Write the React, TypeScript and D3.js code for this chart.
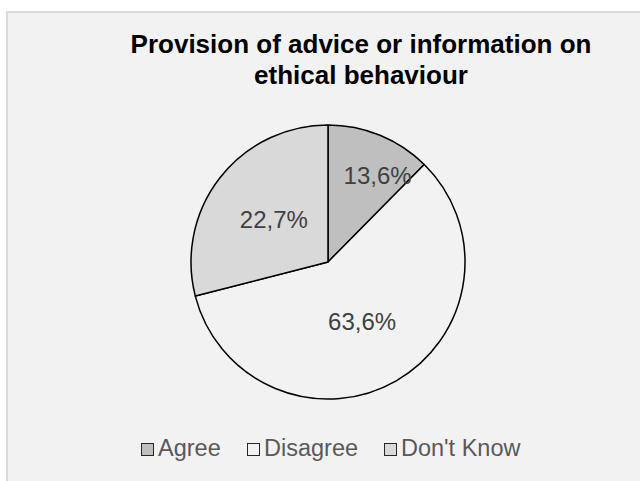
import React from "react";
import * as d3 from "d3";

const title = ["Provision of advice or information on", "ethical behaviour"];
const categories = ["Agree", "Disagree", "Don't Know"];
// slice sizes as drawn (percent of the circle)
const sliceValues = [12.4, 58.6, 29.0];
// data labels as printed on the chart
const labelTexts = ["13,6%", "63,6%", "22,7%"];
const colors = ["#bfbfbf", "#f2f2f2", "#d9d9d9"];

const W = 640;
const H = 481;
const cx = 328;
const cy = 262;
const R = 137;
const labelRadiusFrac = [0.73, 0.5, 0.5];
const labelAngleNudge = [0.13, 0, 0];

export default function App() {
  const pie = d3
    .pie<number>()
    .sort(null)
    .value((d) => d)
    .startAngle(0)
    .endAngle(2 * Math.PI);
  const arcs = pie(sliceValues);
  const arc = d3.arc<d3.PieArcDatum<number>>().innerRadius(0).outerRadius(R);

  const legendX = [141, 247, 384];

  return (
    <svg
      width={W}
      height={H}
      style={{ position: "fixed", left: 0, top: 0, background: "#ffffff" }}
      fontFamily="'Liberation Sans', Arial, sans-serif"
    >
      <rect x={7} y={12} width={W + 20} height={H + 20} fill="#f2f2f2" stroke="#d9d9d9" strokeWidth={2} />
      <text x={361} y={53} textAnchor="middle" fontSize={26} fontWeight="bold" fill="#000">
        {title[0]}
      </text>
      <text x={361} y={84} textAnchor="middle" fontSize={26} fontWeight="bold" fill="#000">
        {title[1]}
      </text>
      <g transform={`translate(${cx},${cy})`}>
        {arcs.map((a, i) => (
          <path key={i} d={arc(a) || ""} fill={colors[i]} stroke="#000" strokeWidth={1.5} strokeLinejoin="round" />
        ))}
        {arcs.map((a, i) => {
          const mid = (a.startAngle + a.endAngle) / 2 + labelAngleNudge[i];
          const r = R * labelRadiusFrac[i];
          const x = Math.sin(mid) * r;
          const y = -Math.cos(mid) * r;
          return (
            <text key={i} x={x} y={y} dy="0.35em" textAnchor="middle" fontSize={24} fill="#404040">
              {labelTexts[i]}
            </text>
          );
        })}
      </g>
      {categories.map((c, i) => (
        <g key={c} transform={`translate(${legendX[i]},443)`}>
          <rect x={0.5} y={0.5} width={12} height={12} fill={colors[i]} stroke="#262626" strokeWidth={1} />
          <text x={17} y={13} fontSize={23.5} fill="#595959">
            {c}
          </text>
        </g>
      ))}
    </svg>
  );
}
